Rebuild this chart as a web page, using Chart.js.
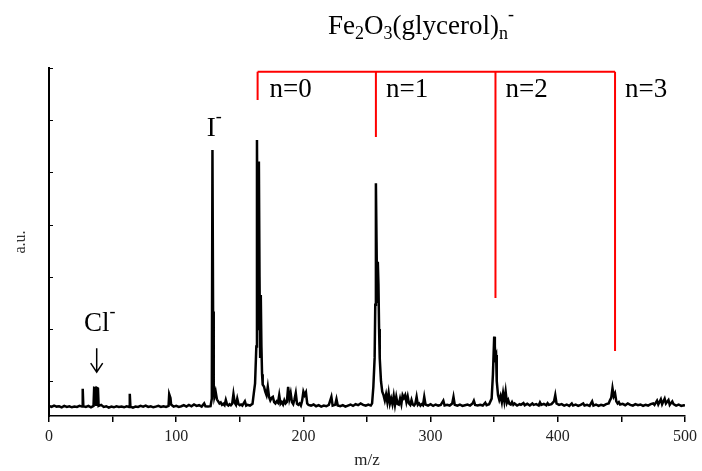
<!DOCTYPE html>
<html>
<head>
<meta charset="utf-8">
<script src="https://cdn.jsdelivr.net/npm/chart.js@4.4.0/dist/chart.umd.min.js"></script>
<style>
  html, body { margin: 0; padding: 0; background: #fff; }
  #wrap { width: 702px; height: 471px; position: relative; }
</style>
</head>
<body>
<div id="wrap"><canvas id="c"></canvas></div>
<script>
// spectrum, m/z vs intensity (a.u.)
const mz = [
  0, 2, 4, 6, 8, 10, 12, 14, 16, 18, 20, 22, 24, 26, 26.5, 27, 29, 31, 33, 35,
  35.5, 36.5, 37, 37.5, 38.5, 39, 41, 43, 45, 47, 49, 51, 53, 55, 57, 59, 61, 63, 63.5, 64,
  66, 68, 70, 72, 74, 76, 78, 80, 82, 84, 86, 88, 90, 92, 94, 94.5, 95.5, 96, 98, 100,
  102, 104, 106, 108, 110, 112, 114, 116, 118, 120, 122, 123, 125, 127, 128, 128.5, 129, 129.5, 130, 131,
  132, 133, 134, 135, 136, 137, 138, 139, 140, 141, 142, 143, 144, 145, 146, 147, 148, 149, 150, 151,
  152, 153, 154, 155, 156, 158, 160, 161, 162, 163, 163.5, 164, 164.5, 165, 165.5, 166, 166.5, 167, 167.5, 168,
  169, 170, 171, 172, 173, 174, 175, 176, 177, 178, 179, 180, 181, 182, 183, 184, 185, 186, 187, 188,
  189, 190, 191, 192, 193, 194, 195, 196, 197, 198, 199, 200, 201, 202, 203, 204, 206, 208, 210, 212,
  214, 216, 218, 220, 222, 223, 225, 226, 227, 229, 231, 233, 235, 237, 239, 241, 243, 245, 247, 249,
  251, 253, 254, 255, 256, 256.5, 257, 257.5, 258, 258.5, 259, 259.5, 260, 261, 262, 263, 264, 265, 266, 267,
  268, 269, 270, 271, 272, 273, 274, 275, 276, 277, 278, 279, 280, 281, 282, 283, 284, 285, 286, 287,
  288, 289, 290, 291, 292, 293, 294, 295, 296, 298, 300, 302, 304, 306, 308, 310, 311, 313, 315, 317,
  318, 319, 321, 323, 325, 327, 329, 331, 333, 334, 335, 337, 339, 341, 343, 344, 346, 348, 349, 350,
  350.5, 351, 351.5, 352, 353, 354, 355, 356, 357, 358, 359, 360, 361, 362, 363, 364, 365, 366, 368, 370,
  371, 373, 374, 376, 378, 380, 381, 383, 385, 386, 387, 389, 391, 392, 393, 395, 397, 398, 399, 401,
  403, 405, 407, 409, 411, 412, 414, 416, 418, 420, 421, 423, 425, 427, 428, 430, 432, 434, 436, 438,
  440, 441, 442, 443, 444, 445, 446, 447, 448, 449, 451, 453, 455, 457, 459, 461, 463, 465, 467, 469,
  471, 473, 475, 476, 478, 479, 481, 482, 484, 485, 487, 488, 490, 491, 493, 495, 497, 499, 500
];
const intensity = [
  2.9, 2.6, 3.0, 2.7, 2.8, 2.5, 2.9, 2.6, 2.8, 2.5, 2.7, 2.6, 2.9, 2.7, 7.8, 2.8, 2.6, 2.9, 2.5, 2.9,
  8.1, 8.0, 3.2, 8.1, 7.9, 2.9, 3.2, 2.6, 2.8, 2.4, 2.7, 2.5, 2.8, 2.6, 2.7, 2.5, 2.8, 2.6, 6.4, 2.7,
  2.4, 2.7, 2.6, 2.9, 2.7, 3.0, 2.6, 2.8, 2.5, 2.7, 2.9, 2.6, 2.8, 2.6, 2.9, 6.3, 5.2, 3.3, 2.7, 2.9,
  2.6, 2.8, 3.1, 2.7, 3.2, 2.8, 3.3, 2.9, 3.1, 2.7, 3.6, 2.8, 2.7, 2.8, 5.0, 76.4, 30, 9.0, 5.5, 7.0,
  4.8, 4.2, 3.6, 3.9, 3.2, 3.5, 3.1, 4.6, 3.3, 3.0, 3.4, 3.1, 3.5, 6.3, 3.8, 3.2, 5.0, 3.4, 3.1, 3.3,
  3.0, 3.6, 4.2, 3.0, 3.2, 3.0, 3.5, 6.5, 9.4, 20, 79.3, 40, 25, 73.1, 40, 17.0, 34.8, 20, 12, 9.0,
  8.5, 7.0, 6.0, 8.4, 5.5, 4.5, 5.2, 5.5, 4.0, 3.6, 4.2, 3.8, 6.0, 3.5, 4.0, 3.3, 4.5, 3.6, 4.0, 8.4,
  5.0, 6.6, 4.0, 3.4, 4.8, 6.6, 3.5, 3.2, 3.6, 3.0, 4.4, 7.0, 6.0, 6.8, 3.6, 3.2, 3.0, 3.3, 2.8, 3.1,
  2.7, 3.0, 2.8, 3.2, 5.5, 3.0, 3.2, 4.8, 3.0, 2.8, 3.1, 2.7, 3.0, 3.3, 2.9, 3.4, 3.1, 3.6, 3.2, 3.0,
  3.3, 3.0, 3.6, 8.4, 16.7, 32, 66.9, 50, 32.8, 44.3, 38, 25, 16.7, 10, 7, 6.0, 4.5, 6.2, 4.0, 6.6,
  3.6, 5.0, 3.4, 5.8, 3.2, 5.5, 3.5, 3.3, 5.0, 3.4, 6.0, 5.2, 6.0, 4.0, 5.6, 3.6, 3.2, 4.6, 3.3, 3.0,
  3.5, 5.5, 3.2, 3.6, 3.0, 3.4, 3.1, 5.5, 3.3, 3.0, 3.4, 2.9, 3.3, 3.0, 3.2, 4.4, 3.0, 3.2, 3.0, 3.6,
  5.5, 3.2, 3.0, 3.3, 2.9, 3.1, 3.3, 3.0, 3.6, 4.4, 3.2, 3.0, 3.2, 3.0, 3.8, 3.1, 3.4, 5.0, 12, 22.8,
  20, 17, 17.5, 10, 6, 4.6, 5.8, 4.0, 6.6, 4.2, 7.0, 3.8, 4.6, 3.5, 3.3, 4.0, 3.2, 3.6, 3.0, 3.4,
  3.2, 3.7, 3.1, 3.5, 3.0, 3.6, 3.2, 3.4, 3.0, 3.9, 3.2, 3.5, 3.1, 3.7, 3.2, 3.4, 4.2, 6.0, 3.6, 3.2,
  3.4, 3.0, 3.3, 2.9, 3.6, 3.0, 3.3, 2.9, 3.2, 3.6, 3.0, 3.2, 2.9, 4.2, 3.0, 3.3, 2.9, 3.2, 3.0, 3.4,
  3.6, 4.5, 5.2, 8.0, 5.7, 6.5, 4.2, 3.6, 4.0, 3.3, 3.5, 3.1, 3.6, 3.2, 3.0, 3.4, 3.1, 3.3, 2.9, 3.2,
  3.0, 3.4, 3.6, 3.2, 4.4, 3.3, 4.8, 3.4, 5.0, 3.6, 4.6, 3.2, 4.2, 3.4, 3.0, 3.3, 2.9, 3.1, 3.0
];

// Fe2O3(glycerol)n- series markers
const seriesLabels = ["n=0", "n=1", "n=2", "n=3"];
const seriesMz = [164, 257, 351, 445];
const seriesDrop = [90.8, 80.2, 33.9, 18.7];
const bracketLevel = 98.9;

// other ions
const ionI = { name: "I", mz: 130, level: 80.5 };
const ionCl = { name: "Cl", mz: 37.5, level: 24.5, arrowTop: 19.5, arrowBottom: 12.6 };

const xTicks = [0, 50, 100, 150, 200, 250, 300, 350, 400, 450, 500];
const yTicks = [100, 85, 70, 55, 40, 25, 10];

const SERIF = "'Liberation Serif', 'DejaVu Serif', serif";
const RED = "#ff0000";

const drawIon = (ctx, text, cx, baseY, size) => {
  ctx.font = `${size}px ${SERIF}`;
  const w = ctx.measureText(text).width;
  ctx.textAlign = "left";
  ctx.textBaseline = "alphabetic";
  ctx.fillText(text, cx - w / 2, baseY);
  ctx.font = `${Math.round(size * 0.65)}px ${SERIF}`;
  ctx.fillText("-", cx + w / 2, baseY - size * 0.5);
};

const annotate = {
  id: "annotate",
  afterDraw(chart) {
    const { ctx, scales: { x, y } } = chart;
    ctx.save();

    // inward ticks on the left axis
    ctx.strokeStyle = "#000";
    ctx.lineWidth = 1;
    y.ticks.forEach((t) => {
      const py = Math.round(y.getPixelForValue(t.value)) + 0.5;
      ctx.beginPath();
      ctx.moveTo(x.left, py);
      ctx.lineTo(x.left + 4, py);
      ctx.stroke();
    });

    // red bracket
    ctx.strokeStyle = RED;
    ctx.lineWidth = 2;
    const topY = y.getPixelForValue(bracketLevel);
    ctx.beginPath();
    ctx.moveTo(x.getPixelForValue(seriesMz[0]), topY);
    ctx.lineTo(x.getPixelForValue(seriesMz[seriesMz.length - 1]), topY);
    seriesMz.forEach((m, i) => {
      const px = x.getPixelForValue(m);
      ctx.moveTo(px, topY);
      ctx.lineTo(px, y.getPixelForValue(seriesDrop[i]));
    });
    ctx.stroke();

    ctx.fillStyle = "#000";
    ctx.font = `27px ${SERIF}`;
    ctx.textAlign = "left";
    ctx.textBaseline = "alphabetic";
    seriesLabels.forEach((lab, i) => {
      ctx.fillText(lab, x.getPixelForValue(seriesMz[i]) + (i === 0 ? 12 : 10), topY + 25);
    });

    // ion labels
    drawIon(ctx, ionI.name, x.getPixelForValue(ionI.mz) - 3, y.getPixelForValue(ionI.level), 27);
    drawIon(ctx, ionCl.name, x.getPixelForValue(ionCl.mz), y.getPixelForValue(ionCl.level), 27);

    // Cl arrow
    const ax = x.getPixelForValue(ionCl.mz);
    const a1 = y.getPixelForValue(ionCl.arrowTop);
    const a2 = y.getPixelForValue(ionCl.arrowBottom);
    ctx.strokeStyle = "#000";
    ctx.lineWidth = 1.5;
    ctx.beginPath();
    ctx.moveTo(ax, a1);
    ctx.lineTo(ax, a2);
    ctx.moveTo(ax - 6, a2 - 9);
    ctx.lineTo(ax, a2);
    ctx.lineTo(ax + 6, a2 - 9);
    ctx.stroke();

    // title Fe2O3(glycerol)n-
    const parts = [
      ["Fe", 0], ["2", 1], ["O", 0], ["3", 1], ["(glycerol)", 0], ["n", 1], ["-", 2],
    ];
    const big = 27, small = 18;
    let total = 0;
    parts.forEach(([t, k]) => {
      ctx.font = `${k ? small : big}px ${SERIF}`;
      total += ctx.measureText(t).width;
    });
    let cx = 421 - total / 2;
    const base = 34;
    parts.forEach(([t, k]) => {
      ctx.font = `${k ? small : big}px ${SERIF}`;
      const dy = k === 1 ? 5 : k === 2 ? -14 : 0;
      ctx.fillText(t, cx, base + dy);
      cx += ctx.measureText(t).width;
    });

    ctx.restore();
  },
};

new Chart(document.getElementById("c"), {
  type: "line",
  data: {
    datasets: [{
      data: mz.map((m, i) => ({ x: m, y: intensity[i] })),
      borderColor: "#000",
      borderWidth: 2.5,
      pointRadius: 0,
      tension: 0,
      fill: false,
    }],
  },
  plugins: [annotate],
  options: {
    responsive: true,
    maintainAspectRatio: false,
    animation: false,
    events: [],
    layout: { padding: { top: 68, right: 16, left: 0, bottom: 0 } },
    plugins: { legend: { display: false }, tooltip: { enabled: false } },
    scales: {
      x: {
        type: "linear",
        min: 0,
        max: 500,
        afterFit: (s) => { s.height = 55; },
        afterBuildTicks: (s) => { s.ticks = xTicks.map((v) => ({ value: v })); },
        border: { display: true, color: "#000", width: 1.5 },
        grid: { drawOnChartArea: false, color: "#000", tickLength: 6, lineWidth: 1.5 },
        ticks: {
          color: "#222",
          padding: 5,
          maxRotation: 0,
          font: { family: SERIF, size: 16 },
          callback: (v) => (v % 100 === 0 ? String(v) : ""),
        },
        title: {
          display: true,
          text: "m/z",
          color: "#222",
          padding: { top: 0, bottom: 0 },
          font: { family: SERIF, size: 17 },
        },
      },
      y: {
        type: "linear",
        min: 0,
        max: 100,
        afterFit: (s) => { s.width = 49; },
        afterBuildTicks: (s) => { s.ticks = yTicks.map((v) => ({ value: v })); },
        border: { display: true, color: "#000", width: 2 },
        grid: { display: false, drawTicks: false },
        ticks: { display: false },
        title: {
          display: true,
          text: "a.u.",
          color: "#333",
          padding: { top: 11, bottom: 0 },
          font: { family: SERIF, size: 16 },
        },
      },
    },
  },
});
</script>
</body>
</html>
